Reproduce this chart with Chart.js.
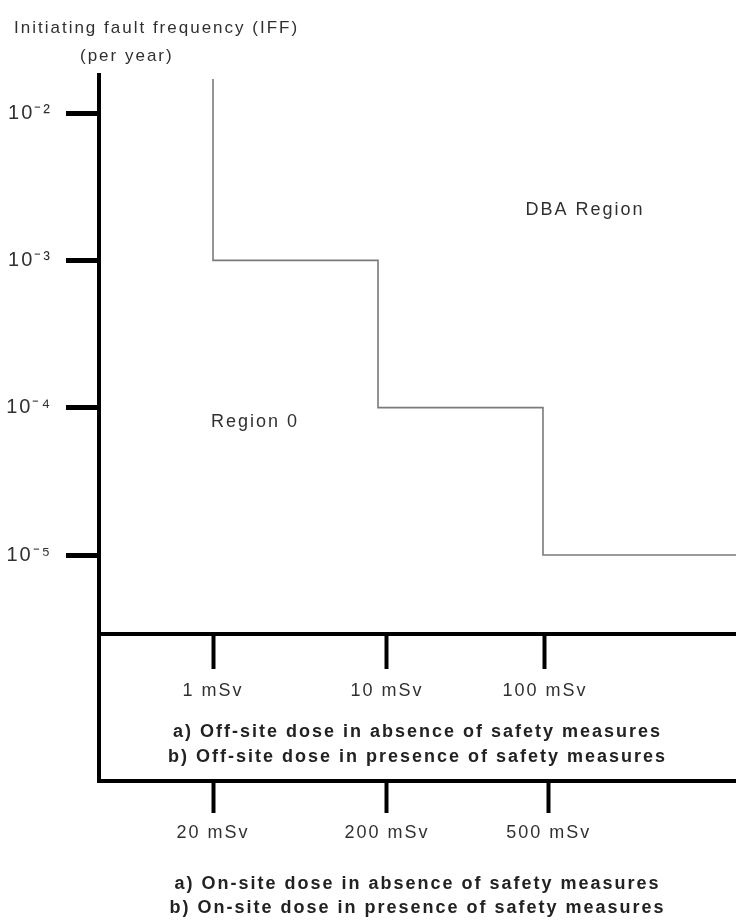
<!DOCTYPE html>
<html>
<head>
<meta charset="utf-8">
<script src="https://cdn.jsdelivr.net/npm/chart.js@4.4.1/dist/chart.umd.min.js"></script>
<style>
html,body{margin:0;padding:0;background:#fff}
#wrap{width:736px;height:920px;position:relative}
</style>
</head>
<body>
<div id="wrap"><canvas id="c"></canvas></div>
<script>
// ---------- data ----------
const headerLines = ['Initiating fault frequency (IFF)', '(per year)'];
const yTickValues = [1e-5, 1e-4, 1e-3, 1e-2];
const yTickLabels = ['10⁻⁵', '10⁻⁴', '10⁻³', '10⁻²'];
// schematic dose-axis positions (0-100) of the step boundaries, and IFF limit of each band
const bandEdges = [17.9, 43.8, 69.7, 100];
const iffLimits = [0.017, 1e-3, 1e-4, 1e-5];
const offsiteTickPos = [17.9, 45.2, 70.0];
const offsiteTickLabels = ['1 mSv', '10 mSv', '100 mSv'];
const offsiteTitle = ['a) Off-site dose in absence of safety measures', 'b) Off-site dose in presence of safety measures'];
const onsiteTickPos = [17.9, 45.2, 70.6];
const onsiteTickLabels = ['20 mSv', '200 mSv', '500 mSv'];
const onsiteTitle = ['a) On-site dose in absence of safety measures', 'b) On-site dose in presence of safety measures'];
const regionNames = ['DBA Region', 'Region 0'];
const regionX = [76.3, 24.5];
const regionY = [2.2e-3, 8.0e-5];

// ---------- build step line from the arrays ----------
const stepPoints = [{x: bandEdges[0], y: iffLimits[0]}];
for (let i = 1; i < iffLimits.length; i++) {
  stepPoints.push({x: bandEdges[i - 1], y: iffLimits[i]});
  stepPoints.push({x: bandEdges[i], y: iffLimits[i]});
}

const FAM = "'Liberation Sans', Arial, sans-serif";
const TXT = '#303030';

const extrasPlugin = {
  id: 'extras',
  beforeDraw(chart) {
    chart.ctx.letterSpacing = '2px';
  },
  afterDraw(chart) {
    const ctx = chart.ctx;
    const ca = chart.chartArea;
    const x2 = chart.scales.x2;
    const xs = chart.scales.x, ys = chart.scales.y;
    ctx.save();
    // extend the vertical axis down to the second dose axis
    ctx.fillStyle = '#000';
    ctx.fillRect(ca.left - 2, ca.bottom, 4, x2.top - ca.bottom + 2);
    // header
    ctx.letterSpacing = '2px';
    ctx.fillStyle = TXT;
    ctx.font = '17px ' + FAM;
    ctx.textBaseline = 'middle';
    ctx.textAlign = 'left';
    ctx.fillText(headerLines[0], 14, 28);
    ctx.fillText(headerLines[1], 80, 56);
    // region labels
    ctx.font = '18px ' + FAM;
    ctx.textAlign = 'center';
    for (let i = 0; i < regionNames.length; i++) {
      ctx.fillText(regionNames[i], xs.getPixelForValue(regionX[i]), ys.getPixelForValue(regionY[i]));
    }
    ctx.restore();
  }
};

new Chart(document.getElementById('c'), {
  type: 'scatter',
  data: {
    datasets: [{
      data: stepPoints,
      showLine: true,
      borderColor: '#7a7a7a',
      borderWidth: 1.6,
      pointRadius: 0,
      fill: false,
      xAxisID: 'x',
      yAxisID: 'y'
    }]
  },
  options: {
    responsive: true,
    maintainAspectRatio: false,
    animation: false,
    layout: {padding: {top: 75, left: 0, right: 0, bottom: 0}},
    plugins: {legend: {display: false}, tooltip: {enabled: false}, title: {display: false}},
    scales: {
      y: {
        type: 'logarithmic',
        position: 'left',
        min: 2.91e-6,
        max: 0.01811,
        afterBuildTicks: s => { s.ticks = yTickValues.map(v => ({value: v})); },
        afterFit: s => { s.width = 99; },
        ticks: {
          callback: (v) => yTickLabels[yTickValues.indexOf(v)],
          font: {family: FAM, size: 20},
          color: TXT,
          padding: 14
        },
        grid: {drawOnChartArea: false, drawTicks: true, tickLength: 33, tickWidth: 5, tickColor: '#000', color: '#000'},
        border: {display: true, width: 4, color: '#000'}
      },
      x: {
        type: 'linear',
        position: 'bottom',
        weight: 0,
        min: 0,
        max: 100,
        afterBuildTicks: s => { s.ticks = offsiteTickPos.map(v => ({value: v})); },
        afterFit: s => { s.height = 147; },
        ticks: {
          callback: (v, i) => offsiteTickLabels[i],
          font: {family: FAM, size: 18},
          color: TXT,
          padding: 11,
          maxRotation: 0,
          autoSkip: false
        },
        grid: {drawOnChartArea: false, drawTicks: true, tickLength: 35, tickWidth: 4, tickColor: '#000', color: '#000'},
        border: {display: true, width: 4, color: '#000'},
        title: {
          display: true,
          text: offsiteTitle,
          font: {family: FAM, size: 18, weight: 'bold', lineHeight: 1.39},
          color: '#222',
          padding: {top: 0, bottom: 11.5}
        }
      },
      x2: {
        type: 'linear',
        position: 'bottom',
        weight: 1,
        min: 0,
        max: 100,
        afterBuildTicks: s => { s.ticks = onsiteTickPos.map(v => ({value: v})); },
        afterFit: s => { s.height = 139; },
        ticks: {
          callback: (v, i) => onsiteTickLabels[i],
          font: {family: FAM, size: 18},
          color: TXT,
          padding: 9,
          maxRotation: 0,
          autoSkip: false
        },
        grid: {drawOnChartArea: false, drawTicks: true, tickLength: 32, tickWidth: 4, tickColor: '#000', color: '#000'},
        border: {display: true, width: 4, color: '#000'},
        title: {
          display: true,
          text: onsiteTitle,
          font: {family: FAM, size: 18, weight: 'bold', lineHeight: 1.35},
          color: '#222',
          padding: {top: 0, bottom: 0}
        }
      }
    }
  },
  plugins: [extrasPlugin]
});
</script>
</body>
</html>
